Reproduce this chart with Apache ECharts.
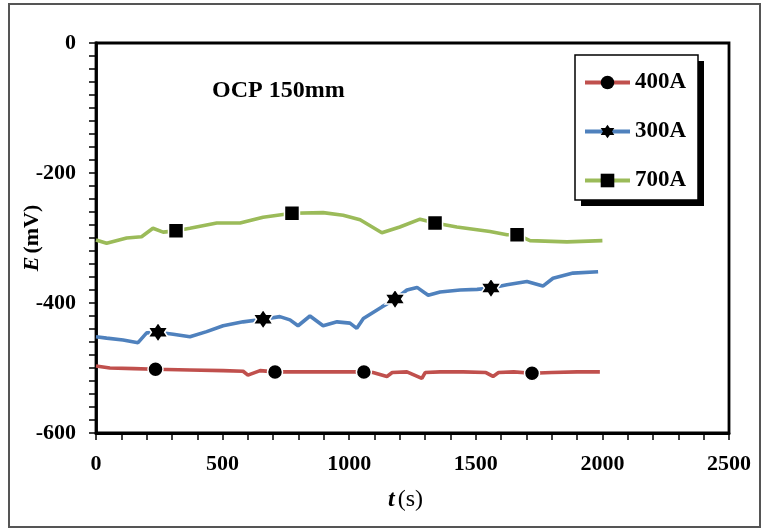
<!DOCTYPE html>
<html>
<head>
<meta charset="utf-8">
<script src="https://cdn.jsdelivr.net/npm/echarts@6/dist/echarts.min.js"></script>
<style>
  html, body { margin: 0; padding: 0; background: #fff; }
  #frame { position: absolute; left: 8px; top: 3px; width: 749px; height: 521px; border: 2px solid #555; }
  #chart { position: absolute; left: 0; top: 0; width: 764px; height: 532px; }
</style>
</head>
<body>
<div id="frame"></div>
<div id="chart"></div>
<script>
// Open-circuit potential vs time, 150 mm, three welding currents
const seriesNames = ['400A', '300A', '700A'];

// 400A
const t400 = [0, 55, 150, 235, 371, 502, 581, 600, 648, 707, 800, 897, 1000, 1058, 1094, 1149, 1170, 1228, 1287, 1300, 1359, 1450, 1540, 1568, 1590, 1650, 1722, 1800, 1900, 1990];
const e400 = [-497, -500, -501, -502, -503, -504, -505, -511, -504, -506, -506, -506, -506, -506, -507, -513, -507, -506, -516, -507, -506, -506, -507, -513, -507, -506, -508, -507, -506, -506];
const mark400 = [235, 707, 1058, 1722];

// 300A
const t300 = [0, 42, 107, 166, 200, 245, 305, 371, 437, 502, 581, 660, 726, 766, 798, 845, 897, 952, 1003, 1030, 1056, 1129, 1181, 1228, 1268, 1312, 1359, 1438, 1505, 1560, 1623, 1702, 1765, 1805, 1884, 1983];
const e300 = [-452, -454, -457, -461, -446, -445, -448, -452, -444, -435, -429, -425, -421, -426, -435, -420, -435, -429, -431, -439, -424, -406, -394, -380, -376, -388, -383, -380, -379, -377, -372, -367, -374, -362, -354, -352];
const mark300 = [245, 660, 1181, 1560];

// 700A
const t700 = [0, 42, 121, 180, 225, 265, 316, 371, 477, 569, 660, 774, 897, 976, 1043, 1129, 1200, 1280, 1339, 1425, 1556, 1623, 1663, 1714, 1860, 2000];
const e700 = [-303, -308, -300, -298, -285, -291, -289, -285, -277, -277, -268, -262, -261, -265, -272, -292, -283, -271, -277, -283, -290, -295, -295, -304, -306, -304];
const mark700 = [316, 774, 1339, 1663];

const colors = ['#C0504D', '#4F81BD', '#9BBB59'];
const hexagram = 'path://M0,-10L2.9,-5L8.66,-5L5.77,0L8.66,5L2.9,5L0,10L-2.9,5L-8.66,5L-5.77,0L-8.66,-5L-2.9,-5Z';
const serif = '"Liberation Serif", "Times New Roman", serif';

function buildData(ts, es, marks) {
  return ts.map((t, i) => {
    const item = { value: [t, es[i]] };
    if (marks.indexOf(t) < 0) item.symbol = 'none';
    return item;
  });
}

function lineSeries(name, ts, es, marks, color, symbol, size) {
  return {
    name: name,
    type: 'line',
    data: buildData(ts, es, marks),
    symbol: symbol,
    symbolSize: size,
    showAllSymbol: true,
    lineStyle: { color: color, width: 3.6 },
    itemStyle: { color: '#000', borderColor: '#fff', borderWidth: 1.5 },
    emphasis: { disabled: true },
    z: 3
  };
}

const chart = echarts.init(document.getElementById('chart'), null, { renderer: 'canvas' });

chart.setOption({
  animation: false,
  backgroundColor: 'transparent',
  textStyle: { fontFamily: serif },
  grid: {
    left: 96, top: 43, right: 35, bottom: 99,
    outerBoundsMode: 'none',
    containLabel: false,
    show: true, borderColor: '#000', borderWidth: 2.8, backgroundColor: 'transparent'
  },
  graphic: [
    // legend frame with drop shadow
    { type: 'rect', z: 10, shape: { x: 581, y: 61, width: 123, height: 145 }, style: { fill: '#000' } },
    { type: 'rect', z: 11, shape: { x: 575, y: 55, width: 123, height: 145 }, style: { fill: '#fff', stroke: '#000', lineWidth: 1.5 } }
  ],
  legend: {
    orient: 'vertical',
    left: 583, top: 71,
    padding: 0,
    z: 20,
    itemWidth: 45, itemHeight: 17, itemGap: 26, itemTextGap: 2,
    lineStyle: { width: 4 },
    itemStyle: { borderWidth: 0 },
    textStyle: { fontFamily: serif, fontWeight: 'bold', fontSize: 23, color: '#000' },
    data: seriesNames
  },
  title: {
    text: 'OCP 150mm',
    left: 207, top: 74,
    textStyle: { fontFamily: serif, fontWeight: 'bold', fontSize: 24, color: '#000' }
  },
  xAxis: {
    type: 'value', min: 0, max: 2500, interval: 500,
    name: '{i|t} {n|(s)}',
    nameLocation: 'middle', nameGap: 55, nameMoveOverlap: false,
    nameTextStyle: {
      padding: [0, 14, 0, 0],
      rich: {
        i: { fontFamily: serif, fontStyle: 'italic', fontWeight: 'bold', fontSize: 24, color: '#000' },
        n: { fontFamily: serif, fontSize: 24, color: '#000' }
      }
    },
    axisLine: { show: true, onZero: false, lineStyle: { color: '#000', width: 2.8 } },
    axisTick: { show: true, inside: false, length: 7, lineStyle: { color: '#000', width: 1.5 } },
    minorTick: { show: true, splitNumber: 5, length: 7, lineStyle: { color: '#000', width: 1.5 } },
    axisLabel: {
      fontFamily: serif, fontWeight: 'bold', fontSize: 22, color: '#000', margin: 20,
      formatter: v => String(v)
    },
    splitLine: { show: false }
  },
  yAxis: {
    type: 'value', min: -600, max: 0, interval: 200,
    name: '{i|E} {b|(mV)}',
    nameLocation: 'middle', nameGap: 53, nameRotate: 90, nameMoveOverlap: false,
    nameTextStyle: {
      rich: {
        i: { fontFamily: serif, fontStyle: 'italic', fontWeight: 'bold', fontSize: 22, color: '#000' },
        b: { fontFamily: serif, fontWeight: 'bold', fontSize: 22, color: '#000' }
      }
    },
    axisLine: { show: true, onZero: false, lineStyle: { color: '#000', width: 2.8 } },
    axisTick: { show: true, inside: false, length: 7, lineStyle: { color: '#000', width: 1.5 } },
    minorTick: { show: true, splitNumber: 10, length: 7, lineStyle: { color: '#000', width: 1.5 } },
    axisLabel: {
      fontFamily: serif, fontWeight: 'bold', fontSize: 22, color: '#000', margin: 20,
      formatter: v => String(v)
    },
    splitLine: { show: false }
  },
  series: [
    lineSeries('400A', t400, e400, mark400, colors[0], 'circle', 15),
    lineSeries('300A', t300, e300, mark300, colors[1], hexagram, 20),
    lineSeries('700A', t700, e700, mark700, colors[2], 'rect', 15)
  ]
});
</script>
</body>
</html>
